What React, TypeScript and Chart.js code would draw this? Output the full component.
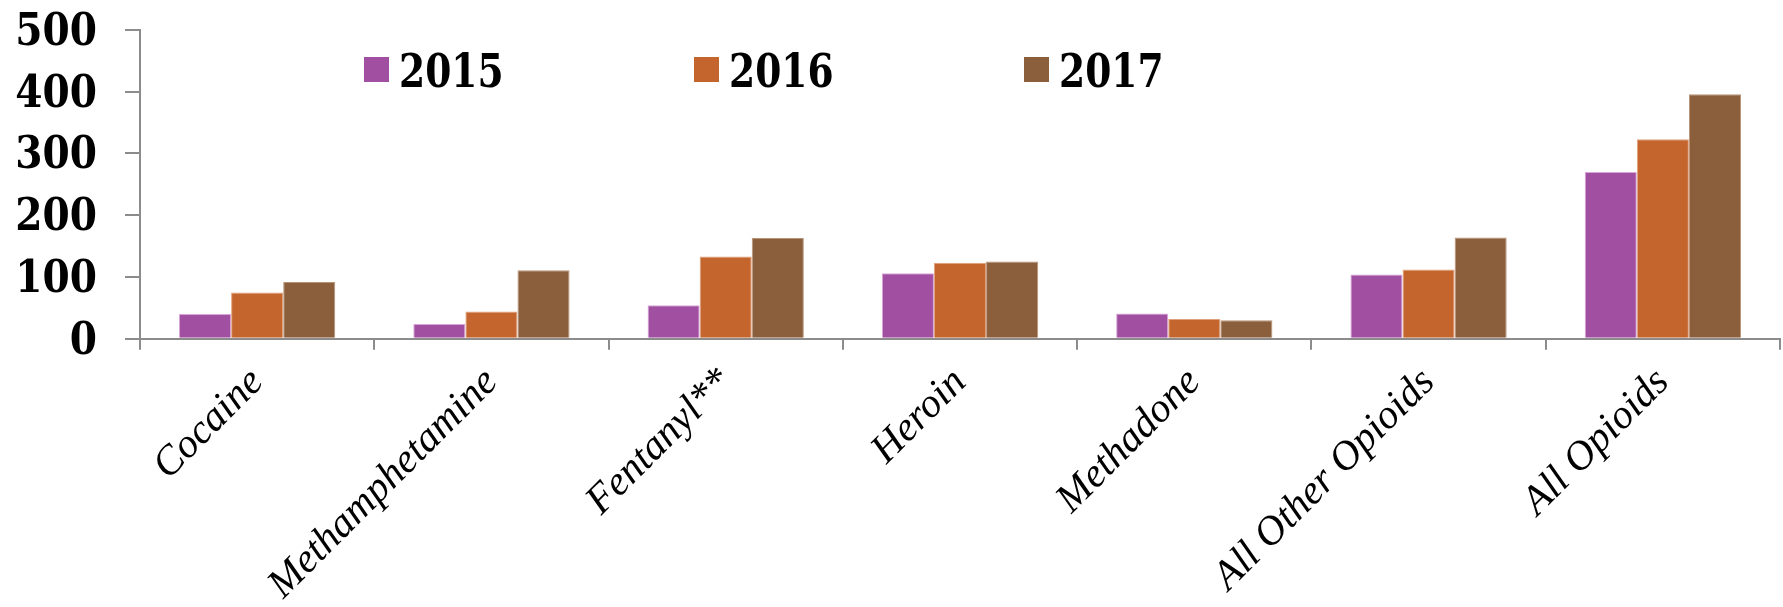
import React, { useEffect, useRef } from "react";
import { Chart, registerables } from "chart.js";

Chart.register(...registerables);

const categories = [
  "Cocaine",
  "Methamphetamine",
  "Fentanyl**",
  "Heroin",
  "Methadone",
  "All Other Opioids",
  "All Opioids",
];
const seriesLabels = ["2015", "2016", "2017"];
const values2015 = [40, 24, 54, 106, 41, 104, 270];
const values2016 = [75, 44, 133, 123, 32, 112, 323];
const values2017 = [92, 111, 163, 125, 30, 164, 396];
const seriesColors = ["#A14FA1", "#C4652D", "#8B5E3C"];
const seriesBorders = ["#D9A6D9", "#E0A07A", "#B89477"];
const yMin = 0;
const yMax = 500;
const yStep = 100;

const X_FONT = { family: '"Liberation Serif"', size: 41, style: "italic" as const };
const Y_LABEL_FONT = 'bold 45px "DejaVu Serif"';
const LEGEND_FONT = 'bold 47px "DejaVu Serif"';
const WARM_FONTS = [Y_LABEL_FONT, 'italic 41px "Liberation Serif"', LEGEND_FONT];

function warmFonts() {
  try {
    const c = document.createElement("canvas");
    const ctx = c.getContext("2d");
    if (ctx) {
      WARM_FONTS.forEach((f) => {
        ctx.font = f;
        ctx.measureText("0123456789 Cocaine Methamphetamine");
        ctx.fillText("0123456789 Cocaine", 0, 10);
      });
    }
  } catch (e) {
    /* ignore */
  }
}

// y tick labels: drawn from the y scale's own ticks, right-aligned before the tick marks
const yLabelPlugin = {
  id: "yTickLabels",
  afterDraw(chart: any) {
    const scale = chart.scales.y;
    const ctx = chart.ctx;
    ctx.save();
    ctx.fillStyle = "#000";
    ctx.font = Y_LABEL_FONT;
    ctx.textAlign = "right";
    ctx.textBaseline = "alphabetic";
    scale.ticks.forEach((t: any) => {
      const y = scale.getPixelForValue(t.value);
      ctx.save();
      ctx.translate(scale.right - 43, y + 15);
      ctx.scale(0.87, 1);
      ctx.fillText(String(t.value), 0, 0);
      ctx.restore();
    });
    ctx.restore();
  },
};

const legendPlugin = {
  id: "customLegend",
  afterDraw(chart: any) {
    const ctx = chart.ctx;
    ctx.save();
    chart.data.datasets.forEach((ds: any, i: number) => {
      const bx = 364 + i * 330;
      const by = 57;
      ctx.fillStyle = ds.backgroundColor;
      ctx.fillRect(bx, by, 25, 25);
      ctx.save();
      ctx.translate(bx + 35, 87);
      ctx.scale(0.8, 1);
      ctx.font = LEGEND_FONT;
      ctx.fillStyle = "#000";
      ctx.textBaseline = "alphabetic";
      ctx.textAlign = "left";
      ctx.fillText(ds.label, 0, 0);
      ctx.restore();
    });
    ctx.restore();
  },
};

export default function App() {
  const canvasRef = useRef<HTMLCanvasElement | null>(null);

  useEffect(() => {
    if (!canvasRef.current) return;
    warmFonts();
    const allValues = [values2015, values2016, values2017];
    const chart = new Chart(canvasRef.current, {
      type: "bar",
      data: {
        labels: categories,
        datasets: seriesLabels.map((label, i) => ({
          label,
          data: allValues[i],
          backgroundColor: seriesColors[i],
          borderColor: seriesBorders[i],
          borderWidth: 1,
          barPercentage: 1,
          categoryPercentage: 0.667,
        })),
      },
      options: {
        animation: false,
        responsive: true,
        maintainAspectRatio: false,
        layout: { padding: { top: 30, right: 3, left: 0, bottom: 0 } },
        plugins: {
          legend: { display: false },
          tooltip: { enabled: false },
        },
        scales: {
          x: {
            grid: {
              display: true,
              drawOnChartArea: false,
              drawTicks: true,
              tickLength: 11,
              color: "#8c8c8c",
              lineWidth: 2,
              offset: true,
            },
            border: { display: true, color: "#8c8c8c", width: 2 },
            ticks: {
              autoSkip: false,
              minRotation: 45,
              maxRotation: 45,
              padding: 9,
              color: "#000",
              font: X_FONT,
            },
            afterFit(scale: any) {
              scale.height = 268.3;
              scale.paddingLeft = 0;
              scale.paddingRight = 0;
            },
          },
          y: {
            min: yMin,
            max: yMax,
            grid: {
              display: true,
              drawOnChartArea: false,
              drawTicks: true,
              tickLength: 15,
              color: "#8c8c8c",
              lineWidth: 2,
            },
            border: { display: true, color: "#8c8c8c", width: 2 },
            ticks: {
              display: false,
              autoSkip: false,
              stepSize: yStep,
            },
            afterFit(scale: any) {
              scale.width = 140;
              scale.paddingTop = 0;
              scale.paddingBottom = 0;
            },
          },
        },
      },
      plugins: [yLabelPlugin, legendPlugin],
    });
    let alive = true;
    const redraw = () => {
      if (alive) chart.update("none");
    };
    requestAnimationFrame(redraw);
    const t1 = setTimeout(redraw, 30);
    const t2 = setTimeout(redraw, 200);
    const fs = (document as any).fonts;
    if (fs && fs.load) {
      Promise.all(WARM_FONTS.map((f) => fs.load(f).catch(() => null))).then(redraw);
    }
    return () => {
      alive = false;
      clearTimeout(t1);
      clearTimeout(t2);
      chart.destroy();
    };
  }, []);

  return (
    <div style={{ position: "fixed", left: 0, top: 0, width: 1783, height: 607, background: "#fff" }}>
      <div
        aria-hidden="true"
        style={{ position: "absolute", left: -9999, top: 0, visibility: "hidden", whiteSpace: "nowrap" }}
      >
        <span style={{ font: WARM_FONTS[0] }}>0123456789</span>
        <span style={{ font: WARM_FONTS[1] }}>Cocaine</span>
        <span style={{ font: WARM_FONTS[2] }}>2015</span>
      </div>
      <canvas ref={canvasRef} />
    </div>
  );
}
